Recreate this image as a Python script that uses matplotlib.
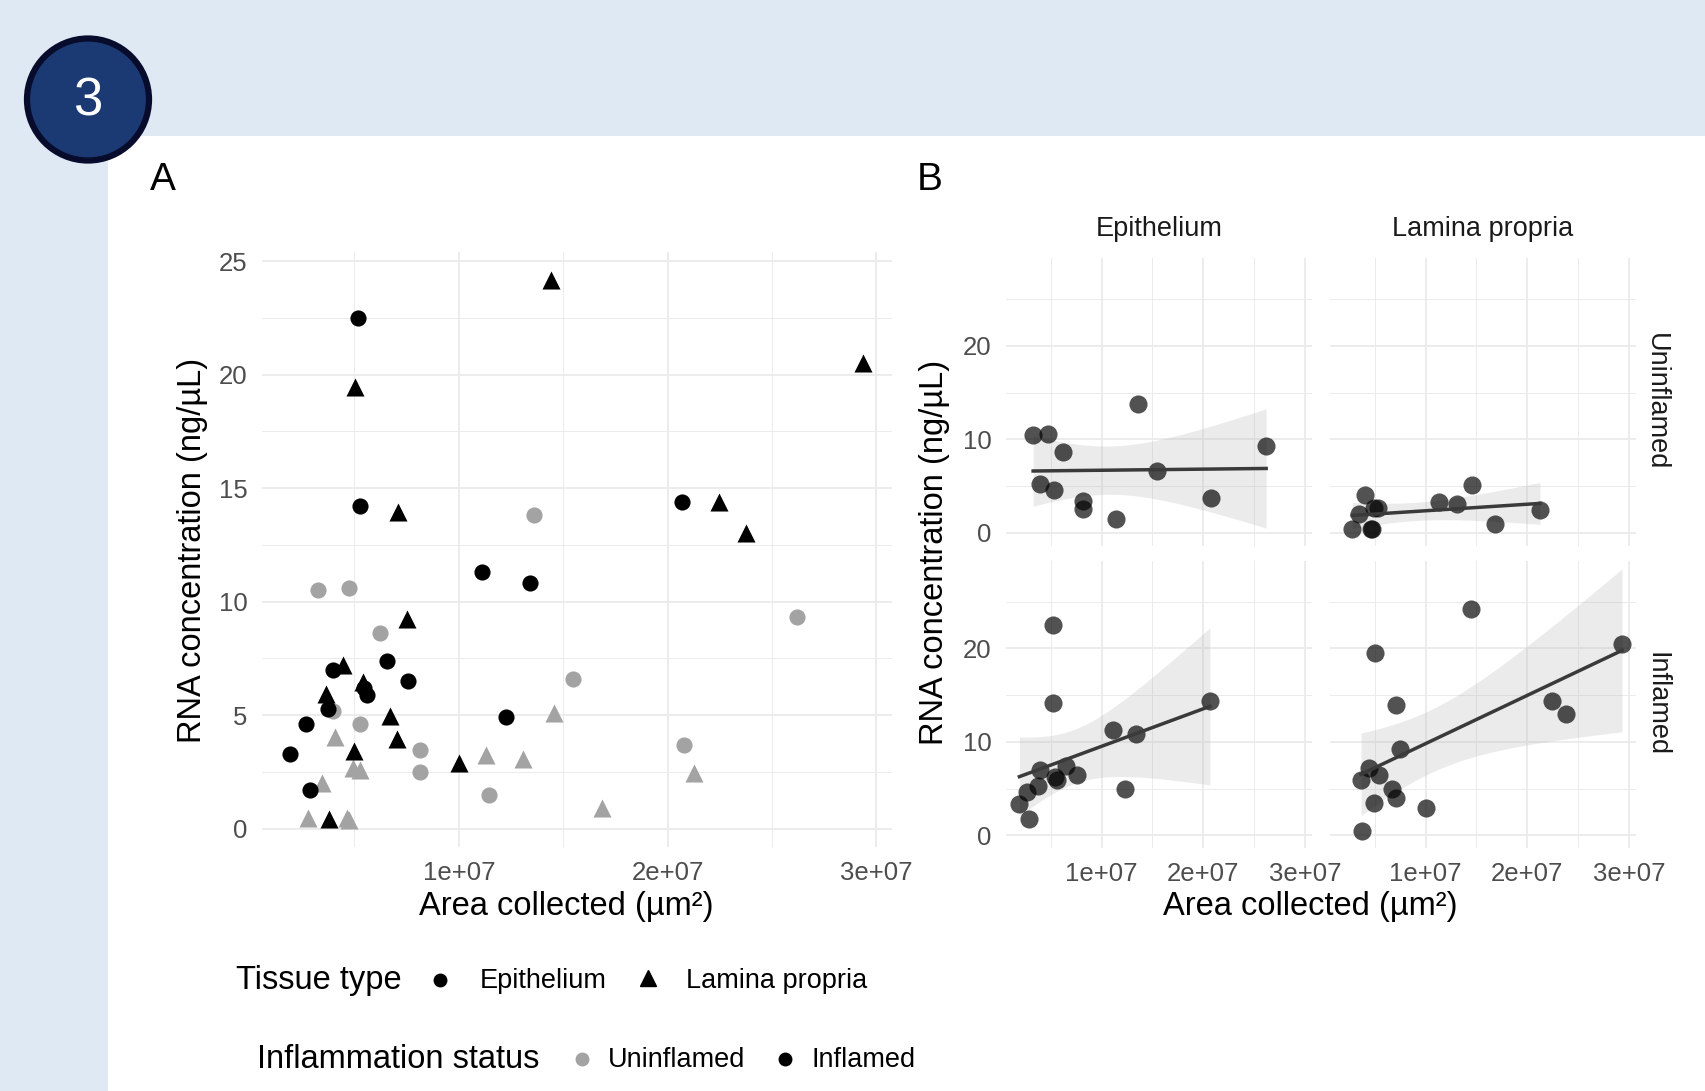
import numpy as np
import matplotlib
matplotlib.use("Agg")
import matplotlib.pyplot as plt
from matplotlib.patches import Rectangle, Circle
from matplotlib.lines import Line2D

plt.rcParams['font.family'] = ['Liberation Sans', 'DejaVu Sans']

# ---------------- data ----------------
# Epithelium, inflamed
epi_infl_x = [5.19e6, 5.27e6, 3.96e6, 6.55e6, 7.55e6, 5.62e6, 5.45e6, 3.75e6, 2.68e6,
              1.92e6, 2.87e6, 1.110e7, 1.341e7, 1.226e7, 2.067e7]
epi_infl_y = [22.5, 14.2, 7.0, 7.4, 6.5, 5.9, 6.2, 5.25, 4.6, 3.3, 1.7, 11.3, 10.8, 4.9, 14.4]
# Epithelium, uninflamed
epi_unin_x = [3.27e6, 4.76e6, 6.21e6, 3.97e6, 5.28e6, 8.13e6, 8.13e6, 1.145e7, 1.545e7,
              1.358e7, 2.080e7, 2.620e7]
epi_unin_y = [10.5, 10.6, 8.6, 5.2, 4.6, 3.45, 2.5, 1.5, 6.6, 13.8, 3.7, 9.3]
# Lamina propria, inflamed
lp_infl_x = [5.05e6, 7.11e6, 7.52e6, 4.46e6, 5.39e6, 3.65e6, 6.71e6, 7.05e6, 4.97e6,
             1.000e7, 3.76e6, 1.444e7, 2.934e7, 2.245e7, 2.378e7]
lp_infl_y = [19.45, 13.95, 9.25, 7.2, 6.45, 5.95, 4.95, 3.95, 3.4, 2.9, 0.42, 24.15, 20.5, 14.4, 13.0]
# Lamina propria, uninflamed
lp_unin_x = [4.09e6, 4.92e6, 5.28e6, 3.44e6, 2.79e6, 4.66e6, 4.72e6, 1.131e7, 1.309e7,
             1.458e7, 1.688e7, 2.126e7]
lp_unin_y = [4.05, 2.65, 2.6, 2.0, 0.45, 0.45, 0.40, 3.25, 3.05, 5.1, 0.9, 2.45]

x_ticks = [1e7, 2e7, 3e7]
x_tick_labels = ["1e+07", "2e+07", "3e+07"]
yA_ticks = [0, 5, 10, 15, 20, 25]
yB_ticks = [0, 10, 20]
tissue_labels = ["Epithelium", "Lamina propria"]
status_labels = ["Uninflamed", "Inflamed"]

# ---------------- figure ----------------
W, H = 1705, 1091
fig = plt.figure(figsize=(W / 100, H / 100), dpi=100)
fig.patch.set_facecolor('white')

BLUE_BG = '#dfe9f3'
UNIN_COL = '#a3a3a3'
INFL_COL = '#000000'
GRID = '#ebebeb'
TICKC = '#4d4d4d'


def box(l, t, r, b):
    return [l / W, 1 - b / H, (r - l) / W, (b - t) / H]


# background / overlay axes in pixel coordinates
bg = fig.add_axes([0, 0, 1, 1], zorder=-1)
bg.set_xlim(0, W)
bg.set_ylim(H, 0)
bg.axis('off')
bg.add_patch(Rectangle((0, 0), W, 136, facecolor=BLUE_BG, edgecolor='none'))
bg.add_patch(Rectangle((0, 0), 108, H, facecolor=BLUE_BG, edgecolor='none'))
bg.add_patch(Circle((88, 99.5), 61, facecolor='#1b3a73', edgecolor='#080c2c', linewidth=4.5))
bg.text(88, 101, "3", color='white', fontsize=38, ha='center', va='center')

bg.text(163, 180, "A", fontsize=28, ha='center', va='center', color='black')
bg.text(930, 180, "B", fontsize=28, ha='center', va='center', color='black')


def style_axes(ax, ylim, yticks, minor_y, show_x=True, show_y=True):
    ax.set_facecolor('none')
    for s in ax.spines.values():
        s.set_visible(False)
    ax.set_xlim(0.055e7, 3.074e7)
    ax.set_ylim(*ylim)
    ax.set_xticks(x_ticks)
    ax.set_xticklabels(x_tick_labels if show_x else [])
    ax.set_yticks(yticks)
    ax.set_yticklabels([str(v) for v in yticks] if show_y else [])
    ax.set_xticks([0.5e7, 1.5e7, 2.5e7], minor=True)
    ax.set_yticks(minor_y, minor=True)
    ax.tick_params(which='both', length=0, labelsize=18.5, labelcolor=TICKC, pad=10)
    ax.grid(True, which='major', color=GRID, linewidth=1.3, zorder=0)
    ax.grid(True, which='minor', color=GRID, linewidth=0.7, zorder=0)
    ax.set_axisbelow(True)


# ---------------- panel A ----------------
axA = fig.add_axes(box(261.5, 252.2, 891.8, 847))
style_axes(axA, (-0.81, 25.39), yA_ticks, [2.5, 7.5, 12.5, 17.5, 22.5])
ms = 135
axA.scatter(epi_unin_x, epi_unin_y, s=ms, marker='o', color=UNIN_COL, linewidths=0, zorder=3)
axA.scatter(lp_unin_x, lp_unin_y, s=ms * 1.25, marker='^', color=UNIN_COL, linewidths=0, zorder=3)
axA.scatter(epi_infl_x, epi_infl_y, s=ms, marker='o', color=INFL_COL, linewidths=0, zorder=4)
axA.scatter(lp_infl_x, lp_infl_y, s=ms * 1.25, marker='^', color=INFL_COL, linewidths=0, zorder=4)

fig.text(192.5 / W, 1 - 550 / H, "RNA concentration (ng/µL)", rotation=90,
         ha='center', va='center', fontsize=23.5)
fig.text(566.5 / W, 1 - 906 / H, "Area collected (µm²)", ha='center', va='center', fontsize=23.5)


# ---------------- panel B ----------------
def t975(df):
    z = 1.959964
    g1 = (z ** 3 + z) / 4
    g2 = (5 * z ** 5 + 16 * z ** 3 + 3 * z) / 96
    g3 = (3 * z ** 7 + 19 * z ** 5 + 17 * z ** 3 - 15 * z) / 384
    return z + g1 / df + g2 / df ** 2 + g3 / df ** 3


def lm_band(x, y, n=100):
    x = np.asarray(x, float)
    y = np.asarray(y, float)
    b1, b0 = np.polyfit(x, y, 1)
    xs = np.linspace(x.min(), x.max(), n)
    yhat = b0 + b1 * xs
    resid = y - (b0 + b1 * x)
    dfree = len(x) - 2
    s = np.sqrt((resid ** 2).sum() / dfree)
    sxx = ((x - x.mean()) ** 2).sum()
    se = s * np.sqrt(1 / len(x) + (xs - x.mean()) ** 2 / sxx)
    t = t975(dfree)
    return xs, yhat, yhat - t * se, yhat + t * se


cols = [(1005.5, 1312.3), (1329.5, 1636.3)]
rows = [(258, 545.5), (560.5, 848)]
facets = {
    (0, 0): (epi_unin_x, epi_unin_y),
    (0, 1): (lp_unin_x, lp_unin_y),
    (1, 0): (epi_infl_x, epi_infl_y),
    (1, 1): (lp_infl_x, lp_infl_y),
}
for (r, c), (fx, fy) in facets.items():
    ax = fig.add_axes(box(cols[c][0], rows[r][0], cols[c][1], rows[r][1]))
    style_axes(ax, (-1.36, 29.39), yB_ticks, [5, 15, 25], show_x=(r == 1), show_y=(c == 0))
    xs, yh, lo, hi = lm_band(fx, fy)
    ax.fill_between(xs, lo, hi, color='#a8a8a8', alpha=0.22, linewidth=0, zorder=2)
    ax.scatter(fx, fy, s=170, marker='o', color='black', alpha=0.68, linewidths=0, zorder=3)
    ax.plot(xs, yh, color='#3a3a3a', linewidth=2.5, zorder=4)

fig.text(1159 / W, 1 - 229.5 / H, "Epithelium", ha='center', va='center', fontsize=19.5, color='#1a1a1a')
fig.text(1483 / W, 1 - 229.5 / H, "Lamina propria", ha='center', va='center', fontsize=19.5, color='#1a1a1a')
fig.text(1656 / W, 1 - 402 / H, "Uninflamed", ha='center', va='center', rotation=-90, fontsize=19.5, color='#1a1a1a')
fig.text(1656 / W, 1 - 704 / H, "Inflamed", ha='center', va='center', rotation=-90, fontsize=19.5, color='#1a1a1a')

fig.text(935 / W, 1 - 552 / H, "RNA concentration (ng/µL)", rotation=90,
         ha='center', va='center', fontsize=23.5)
fig.text(1310 / W, 1 - 906 / H, "Area collected (µm²)", ha='center', va='center', fontsize=23.5)

# ---------------- legends ----------------
bg.text(236, 981, "Tissue type", fontsize=23.5, ha='left', va='center')
bg.add_line(Line2D([440.4], [980], marker='o', markersize=9, color='black', linestyle='none'))
bg.text(479.5, 981, tissue_labels[0], fontsize=19.5, ha='left', va='center')
bg.add_line(Line2D([648], [978], marker='^', markersize=11, color='black', linestyle='none'))
bg.text(686, 981, tissue_labels[1], fontsize=19.5, ha='left', va='center')

bg.text(256.6, 1060, "Inflammation status", fontsize=23.5, ha='left', va='center')
bg.add_line(Line2D([581.8], [1059], marker='o', markersize=9, color=UNIN_COL, linestyle='none'))
bg.text(608, 1060, status_labels[0], fontsize=19.5, ha='left', va='center')
bg.add_line(Line2D([785], [1059], marker='o', markersize=9, color=INFL_COL, linestyle='none'))
bg.text(812, 1060, status_labels[1], fontsize=19.5, ha='left', va='center')

fig.savefig("out.png", dpi=100)
